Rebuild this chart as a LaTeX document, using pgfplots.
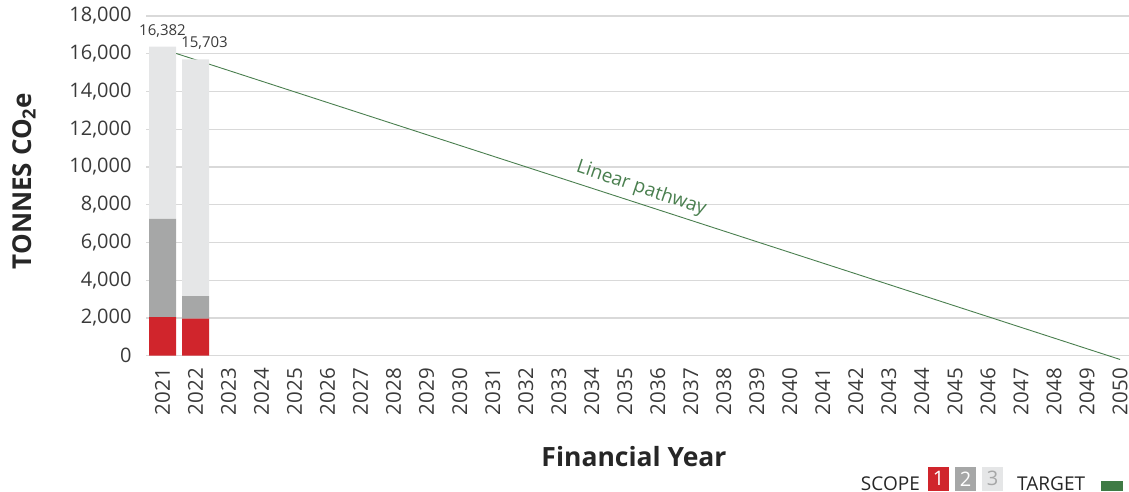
\documentclass[border=0pt]{standalone}
\usepackage{pgfplots}
\pgfplotsset{compat=1.18}
\usepackage{fontspec}
\setmainfont{Open Sans}
\definecolor{scopeone}{HTML}{D0252C}
\definecolor{scopetwo}{HTML}{A6A7A7}
\definecolor{scopethree}{HTML}{E5E6E7}
\definecolor{target}{HTML}{4A7F4F}
\definecolor{legtarget}{HTML}{3F7B45}
\definecolor{ticktext}{HTML}{3A3A3A}
\definecolor{gridgray}{HTML}{D9D9D9}
\begin{document}
\begin{tikzpicture}
\useasboundingbox (0pt,0pt) rectangle (1129pt,491pt);
\begin{axis}[
    at={(146pt,135.3pt)}, anchor=south west,
    scale only axis,
    width=984pt, height=339.7pt,
    xmin=2020.5, xmax=2050.3,
    ymin=0, ymax=18000,
    clip=false,
    axis line style={draw=none},
    major tick length=0pt,
    xtick={2021,2022,...,2050},
    ytick={0,2000,...,18000},
    ymajorgrids,
    grid style={line width=1.3pt, gridgray},
    scaled y ticks=false,
    /pgf/number format/assume math mode=true,
    x tick label style={/pgf/number format/1000 sep={}, yshift=-9pt, rotate=90, anchor=east,
        font=\fontsize{20.5}{22}\selectfont, text=ticktext},
    y tick label style={/pgf/number format/1000 sep={,}, anchor=east,
        font=\fontsize{20}{22}\selectfont, text=ticktext, xshift=-11pt},
    ybar stacked,
    bar width=27pt,
]
\addplot[fill=scopeone, draw=none] coordinates {(2021,2050) (2022,1960)};
\addplot[fill=scopetwo, draw=none] coordinates {(2021,5200) (2022,1200)};
\addplot[fill=scopethree, draw=none] coordinates {(2021,9132) (2022,12543)};
% target pathway
\addplot[sharp plot, stack plots=false, target, line width=0.9pt]
    coordinates {(2021,16250) (2050,-200)};
% total labels
\node[anchor=south, font=\fontsize{15}{17}\selectfont, text=ticktext, yshift=6pt]
    at (axis cs:2021,16382) {16,382};
\node[anchor=south, font=\fontsize{15}{17}\selectfont, text=ticktext, yshift=6pt, xshift=9pt]
    at (axis cs:2022,15703) {15,703};
\node[rotate=-18.6, text=target, font=\fontsize{19}{21}\selectfont]
    at (axis cs:2035.5,8850) {Linear pathway};
\end{axis}
\node[rotate=90, font=\bfseries\fontsize{26}{30}\selectfont, text=black!85]
    at (24pt,310pt) {TONNES CO\textsubscript{2}e};
\node[anchor=base, font=\bfseries\fontsize{26.5}{30}\selectfont, text=black!85]
    at (634pt,25pt) {Financial Year};
\node[anchor=base east, font=\fontsize{19}{22}\selectfont, text=black!85, inner sep=0pt]
    at (920pt,1pt) {SCOPE};
\node[anchor=south, fill=scopeone, text=white, minimum width=21pt, minimum height=24pt,
    inner sep=0pt, font=\fontsize{20}{22}\selectfont] at (938.5pt,0pt) {1};
\node[anchor=south, fill=scopetwo, text=white, minimum width=21pt, minimum height=24pt,
    inner sep=0pt, font=\fontsize{20}{22}\selectfont] at (965.5pt,0pt) {2};
\node[anchor=south, fill=scopethree, text=scopetwo, minimum width=21pt, minimum height=24pt,
    inner sep=0pt, font=\fontsize{20}{22}\selectfont] at (992.5pt,0pt) {3};
\node[anchor=base west, font=\fontsize{19}{22}\selectfont, text=black!85, inner sep=0pt]
    at (1017pt,1pt) {TARGET};
\fill[legtarget] (1101pt,0pt) rectangle (1123pt,10pt);
\end{tikzpicture}
\end{document}
